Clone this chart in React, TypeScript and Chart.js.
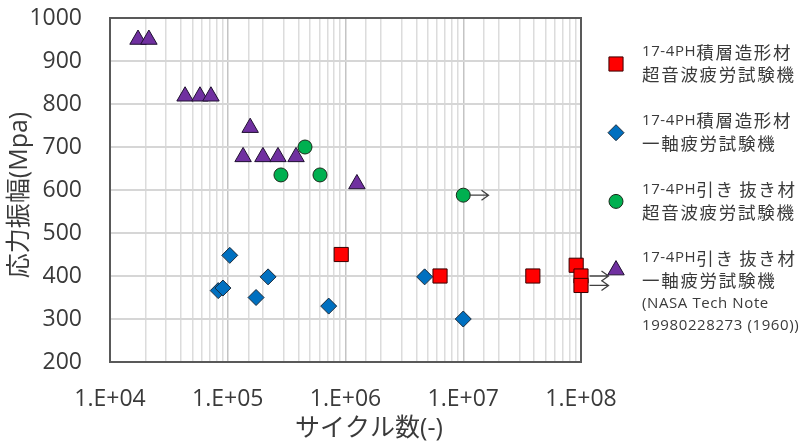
import React, { useEffect, useRef } from 'react';
import { Chart, registerables } from 'chart.js';

Chart.register(...registerables);

// ---- data ----
const xRedAM = [9.2e5, 6.35e6, 3.9e7, 9.1e7, 1.0e8, 1.0e8];
const yRedAM = [450, 400, 400, 425, 400, 378];
const runRedAM = [false, false, false, false, true, true];

const xBlueAM = [1.04e5, 8.3e4, 9.1e4, 2.2e5, 1.74e5, 7.2e5, 4.7e6, 1.0e7];
const yBlueAM = [448, 366, 372, 398, 350, 330, 398, 300];

const xGreenW = [2.83e5, 4.53e5, 6.07e5, 1.0e7];
const yGreenW = [635, 700, 635, 588];
const runGreenW = [false, false, false, true];

const xPurpleW = [1.73e4, 2.14e4, 4.34e4, 5.81e4, 7.2e4, 1.55e5, 1.35e5, 1.99e5, 2.67e5, 3.8e5, 1.25e6];
const yPurpleW = [950, 950, 818, 818, 818, 745, 677, 677, 677, 677, 614];

const xTickValues = [1e4, 1e5, 1e6, 1e7, 1e8];
const xTickLabels = ['1.E+04', '1.E+05', '1.E+06', '1.E+07', '1.E+08'];
const yMin = 200;
const yMax = 1000;
const yStep = 100;

const legendLines = [
  ['17-4PH積層造形材', '超音波疲労試験機'],
  ['17-4PH積層造形材', '一軸疲労試験機'],
  ['17-4PH引き 抜き材', '超音波疲労試験機'],
  ['17-4PH引き 抜き材', '一軸疲労試験機', '(NASA Tech Note', '19980228273 (1960))'],
];
const xTitle = 'サイクル数(-)';
const yTitle = '応力振幅(Mpa)';

const TEXT = '#3a3a3a';

function drawMarker(ctx: CanvasRenderingContext2D, style: string, x: number, y: number, r: number, fill: string, stroke: string) {
  ctx.save();
  ctx.beginPath();
  if (style === 'rect') {
    const s = Math.SQRT1_2 * r;
    ctx.rect(x - s, y - s, 2 * s, 2 * s);
  } else if (style === 'rectRot') {
    ctx.moveTo(x, y - r);
    ctx.lineTo(x + r, y);
    ctx.lineTo(x, y + r);
    ctx.lineTo(x - r, y);
    ctx.closePath();
  } else if (style === 'triangle') {
    for (let k = 0; k < 3; k++) {
      const a = (k * 2 * Math.PI) / 3;
      const px = x + Math.sin(a) * r;
      const py = y - Math.cos(a) * r;
      if (k === 0) ctx.moveTo(px, py);
      else ctx.lineTo(px, py);
    }
    ctx.closePath();
  } else {
    ctx.arc(x, y, r, 0, Math.PI * 2);
  }
  ctx.fillStyle = fill;
  ctx.fill();
  ctx.lineWidth = 1;
  ctx.strokeStyle = stroke;
  ctx.stroke();
  ctx.restore();
}

const CJK = /[\u3000-\u30ff\u3400-\u9fff]/;
function drawMixed(ctx: CanvasRenderingContext2D, text: string, x: number, y: number) {
  let cx = x;
  for (const ch of text) {
    if (CJK.test(ch)) {
      ctx.font = "17.5px 'Noto Sans CJK JP'";
      ctx.fillText(ch, cx, y);
      cx += 19.2;
    } else {
      ctx.font = "15px 'Open Sans', 'Noto Sans CJK JP'";
      ctx.fillText(ch, cx, y);
      cx += ctx.measureText(ch).width + 0.6;
    }
  }
}

const runouts: (boolean[] | null)[] = [runRedAM, null, runGreenW, null];

const framePlugin = {
  id: 'frame',
  beforeDatasetsDraw(chart: any) {
    const { ctx, chartArea: a } = chart;
    ctx.save();
    ctx.strokeStyle = '#595959';
    ctx.lineWidth = 2;
    ctx.strokeRect(a.left, a.top, a.right - a.left, a.bottom - a.top);
    ctx.restore();
  },
  afterDatasetsDraw(chart: any) {
    const { ctx } = chart;
    ctx.save();
    ctx.strokeStyle = '#404040';
    ctx.lineWidth = 1.3;
    runouts.forEach((flags, di) => {
      if (!flags) return;
      const meta = chart.getDatasetMeta(di);
      const r = chart.data.datasets[di].pointRadius as number;
      meta.data.forEach((el: any, i: number) => {
        if (!flags[i]) return;
        const x0 = el.x + r * 0.75 + 1;
        const x1 = x0 + 19;
        const y = el.y;
        ctx.beginPath();
        ctx.moveTo(x0, y);
        ctx.lineTo(x1, y);
        ctx.moveTo(x1 - 7, y - 5);
        ctx.lineTo(x1, y);
        ctx.lineTo(x1 - 7, y + 5);
        ctx.stroke();
      });
    });
    ctx.restore();
  },
  afterDraw(chart: any) {
    const { ctx } = chart;
    ctx.save();
    // axis titles
    ctx.fillStyle = TEXT;
    ctx.textBaseline = 'middle';
    ctx.textAlign = 'center';
    ctx.font = "25px 'Open Sans', 'Noto Sans CJK JP'";
    ctx.fillText(xTitle, 369, 429);
    ctx.save();
    ctx.translate(20, 195);
    ctx.rotate(-Math.PI / 2);
    ctx.fillText(yTitle, 0, 0);
    ctx.restore();
    // legend
    ctx.textAlign = 'left';
    chart.data.datasets.forEach((ds: any, i: number) => {
      const top = 52 + i * 68.7;
      drawMarker(ctx, ds.pointStyle, 616, top + 12, ds.pointRadius, ds.backgroundColor, ds.borderColor);
      ctx.fillStyle = TEXT;
      legendLines[i].forEach((line, j) => {
        drawMixed(ctx, line, 642, top + j * 22.7);
      });
    });
    ctx.restore();
  },
};

export default function App() {
  const ref = useRef<HTMLCanvasElement | null>(null);
  useEffect(() => {
    if (!ref.current) return;
    const mk = (xs: number[], ys: number[]) => xs.map((x, i) => ({ x, y: ys[i] }));
    const tickFont = { family: "'Open Sans', sans-serif", size: 23 };
    const isDecade = (v: number) => Math.abs(Math.log10(v) - Math.round(Math.log10(v))) < 1e-6;
    const chart = new Chart(ref.current, {
      type: 'scatter',
      data: {
        datasets: [
          { label: legendLines[0].join(' '), data: mk(xRedAM, yRedAM), pointStyle: 'rect', pointRadius: 10, backgroundColor: '#ff0000', borderColor: '#3a0000', borderWidth: 1, clip: false },
          { label: legendLines[1].join(' '), data: mk(xBlueAM, yBlueAM), pointStyle: 'rectRot', pointRadius: 8, backgroundColor: '#0070c0', borderColor: '#1a2a3a', borderWidth: 1, clip: false },
          { label: legendLines[2].join(' '), data: mk(xGreenW, yGreenW), pointStyle: 'circle', pointRadius: 7, backgroundColor: '#00b050', borderColor: '#1a2a1a', borderWidth: 1, clip: false },
          { label: legendLines[3].join(' '), data: mk(xPurpleW, yPurpleW), pointStyle: 'triangle', pointRadius: 9.5, backgroundColor: '#7030a0', borderColor: '#1f1030', borderWidth: 1, clip: false },
        ] as any,
      },
      options: {
        responsive: false,
        animation: false,
        devicePixelRatio: 1,
        layout: { padding: { left: 0, top: 18, right: 230, bottom: 0 } },
        plugins: { legend: { display: false }, tooltip: { enabled: false } },
        scales: {
          x: {
            type: 'logarithmic',
            min: 1e4,
            max: 1e8,
            afterFit: (s: any) => { s.height = 85; s.paddingLeft = 0; s.paddingRight = 0; },
            border: { display: false },
            grid: {
              drawTicks: false,
              color: (c: any) => (c.tick && isDecade(c.tick.value) ? '#c4c4c4' : '#dcdcdc'),
              lineWidth: 1.5,
            },
            ticks: {
              autoSkip: false,
              maxRotation: 0,
              padding: 24,
              color: TEXT,
              font: tickFont,
              callback: (v: any) => {
                const i = xTickValues.findIndex((t) => Math.abs(t - Number(v)) / t < 1e-6);
                return i >= 0 ? xTickLabels[i] : '';
              },
            },
          },
          y: {
            type: 'linear',
            min: yMin,
            max: yMax,
            afterFit: (s: any) => { s.width = 110; s.paddingTop = 0; s.paddingBottom = 0; },
            border: { display: false },
            grid: { drawTicks: false, color: '#d6d6d6', lineWidth: 2 },
            ticks: { stepSize: yStep, padding: 28, color: TEXT, font: tickFont, callback: (v: any) => String(v) },
          },
        },
      } as any,
      plugins: [framePlugin],
    });
    return () => chart.destroy();
  }, []);
  return (
    <div style={{ position: 'absolute', left: 0, top: 0, width: 811, height: 447, background: '#fff' }}>
      <canvas ref={ref} width={811} height={447} style={{ width: 811, height: 447 }} />
    </div>
  );
}
